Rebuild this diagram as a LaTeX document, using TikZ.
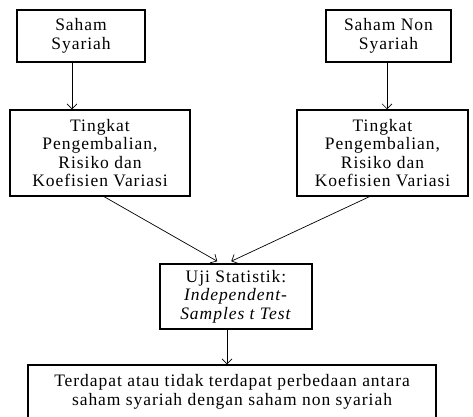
\documentclass[tikz,border=0pt]{standalone}
\usepackage{fontspec}
\setmainfont{Liberation Serif}[LetterSpace=5.5]
\usetikzlibrary{arrows.meta,calc}
\begin{document}
\begin{tikzpicture}[x=1pt,y=-1pt,
  box/.style={draw, line width=1.5pt, align=center, inner sep=0pt,
    font=\fontsize{17.5}{18.5}\selectfont},
  arr/.style={line width=0.7pt, -{Straight Barb[length=5pt,width=10pt]}}]
\useasboundingbox (0,0) rectangle (473,416);
\node[box, minimum width=128pt, minimum height=52pt] (b1) at (81,36) {Saham\\Syariah};
\node[box, minimum width=180pt, minimum height=86pt] (b2) at (100,153) {Tingkat\\Pengembalian,\\Risiko dan\\Koefisien Variasi};
\node[box, minimum width=125pt, minimum height=52pt] (b3) at (388.5,36) {Saham Non\\Syariah};
\node[box, minimum width=171pt, minimum height=86pt] (b4) at (382.5,153) {Tingkat\\Pengembalian,\\Risiko dan\\Koefisien Variasi};
\node[box, minimum width=152pt, minimum height=65pt] (b5) at (236,296.5) {Uji Statistik:\\\textit{Independent-}\\\textit{Samples t Test}};
\node[box, minimum width=408pt, minimum height=54pt] (b6) at (232,392) {Terdapat atau tidak terdapat perbedaan antara\\saham syariah dengan saham non syariah};
\coordinate (a1) at (72,0);
\coordinate (a2) at (387,0);
\coordinate (a3) at (227,0);
\draw[arr] (b1.south -| a1) -- (b2.north -| a1);
\draw[arr] (b3.south -| a2) -- (b4.north -| a2);
\draw[arr] ($(b2.south west)+(95,0)$) -- ($(b5.north west)+(58,-2)$);
\draw[arr] ($(b4.south west)+(73,0)$) -- ($(b5.north west)+(72,-2)$);
\draw[arr] (b5.south -| a3) -- (b6.north -| a3);
\end{tikzpicture}
\end{document}
